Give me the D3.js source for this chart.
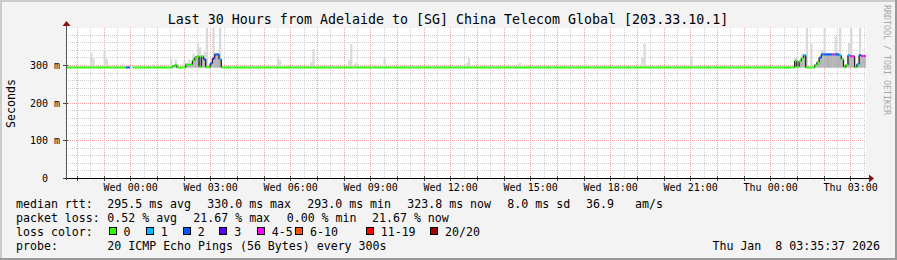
<!DOCTYPE html>
<html><head><meta charset="utf-8">
<script src="https://cdn.jsdelivr.net/npm/d3@7"></script>
<style>
body{margin:0;background:#f3f3f3}
svg{display:block}
text{font-family:"DejaVu Sans Mono",monospace;fill:#000}
</style>
</head><body>
<svg id="c" width="897" height="260"></svg>
<script>
// ---------------- data ----------------
const titleText = "Last 30 Hours from Adelaide to [SG] China Telecom Global [203.33.10.1]";
const startTime = "06 21:35:37";
const endTime = "08 03:35:37";
const yLabel = "Seconds";
const yTickValues = [0, 100, 200, 300];
const yTickLabels = ["0  ", "100 m", "200 m", "300 m"];
const xTickLabels = ["Wed 00:00","Wed 03:00","Wed 06:00","Wed 09:00","Wed 12:00","Wed 15:00","Wed 18:00","Wed 21:00","Thu 00:00","Thu 03:00"];
const lossLabels = ["0","1","2","3","4-5","6-10","11-19","20/20"];
const lossColors = ["#26ff00","#00b8ff","#0059ff","#5e00ff","#ff00ff","#ff5500","#ff0000","#a10000"];

// median rtt (ms) and loss bucket, per 5-min step end; value holds until the next entry
const medianChanges = [
 ["06 21:40",293.4,0],["06 23:55",293.4,2],["07 00:05",null,0],["07 00:10",293.4,0],
 ["07 01:40",297,0],["07 01:45",300,0],["07 01:50",293.4,0],
 ["07 02:10",301,0],["07 02:15",300,0],["07 02:20",301,0],["07 02:25",312,0],["07 02:30",320,0],
 ["07 02:35",323,0],["07 02:40",295,0],["07 02:45",323,0],["07 02:50",315,2],["07 02:55",294,0],
 ["07 03:05",304,2],["07 03:10",317,3],["07 03:15",328,2],["07 03:25",315,1],["07 03:30",293.4,0],
 ["08 01:00",311,0],["08 01:05",295,0],["08 01:10",310,0],["08 01:15",318,0],["08 01:20",326,1],
 ["08 01:25",293.4,0],["08 01:45",300,0],["08 01:50",307,0],["08 01:55",319,2],["08 02:00",328,2],
 ["08 02:25",328,4],["08 02:30",328,2],["08 02:40",325,1],["08 02:45",315,0],["08 02:50",294,0],
 ["08 02:55",300,0],["08 03:00",326,1],["08 03:05",323,4],["08 03:15",294,0],["08 03:20",302,1],
 ["08 03:25",326,2],["08 03:30",323.8,4]
];
// smoke: slowest ping per step (ms) where it rises visibly above the median
const smokeBaseMax = 296;
const smokeMinPing = 293;
const smokePeaks = [
 ["06 22:35",331],["06 22:40",318],["06 23:05",340],["06 23:10",316],["06 23:45",304],
 ["07 00:55",302],["07 01:35",315],["07 01:45",315],["07 02:05",312],["07 02:15",315],
 ["07 02:25",330],["07 02:35",357],["07 02:40",347],["07 02:50",335],["07 02:55",400],
 ["07 03:10",400],["07 03:25",400],
 ["07 05:35",320],["07 05:40",312],["07 06:50",307],["07 06:55",342],["07 08:15",312],
 ["07 08:20",355],["07 08:30",305],["07 08:35",303],["07 09:15",300],["07 09:35",319],
 ["07 12:40",305],["07 12:45",319],["07 14:40",306],["07 17:05",302],["07 19:15",320],
 ["07 19:20",357],["07 21:05",323],
 ["08 01:00",320],["08 01:15",331],["08 01:25",400],["08 01:35",358],["08 02:00",340],
 ["08 02:05",400],["08 02:30",376],["08 02:40",400],["08 03:00",358],["08 03:05",400],["08 03:25",400]
];
const legendRtt = ["295.5 ms avg","330.0 ms max","293.0 ms min","323.8 ms now","8.0 ms sd","36.9","am/s"];
const legendLoss = ["0.52 % avg","21.67 % max","0.00 % min","21.67 % now"];
const probeText = "20 ICMP Echo Pings (56 Bytes) every 300s";
const stampText = "Thu Jan  8 03:35:37 2026";
const creditText = "RRDTOOL / TOBI OETIKER";

// ---------------- layout ----------------
const W = 897, H = 260;
const X0 = 66, X1 = 866, Y0 = 178, YT = 28, YMAX = 398.2;
const rttX = [107.3, 207.3, 307.3, 407.3, 507.3, 586, 635];
const lossX = [107.3, 193.3, 286.7, 372];
const swatchX = [108.5, 145.7, 182.7, 219.3, 256.7, 295, 365.7, 430];
const rowY = [207.7, 221.8, 235.9, 250];

const P = d3.timeParse("%Y-%m-%d %H:%M");
const PS = d3.timeParse("%Y-%m-%d %H:%M:%S");
const T = s => (s.length > 8 ? PS : P)("2026-01-" + s);
const t0 = T(startTime), t1 = T(endTime);

const svg = d3.select("#c");
const x = d3.scaleTime().domain([t0, t1]).range([X0, X1]);
const y = d3.scaleLinear().domain([0, YMAX]).range([Y0, YT]);

// background + 3D border
svg.append("rect").attr("width", W).attr("height", H).attr("fill", "#f3f3f3");
svg.append("rect").attr("x", 0).attr("y", 0).attr("width", W).attr("height", 2).attr("fill", "#cbcbcb");
svg.append("rect").attr("x", 0).attr("y", 0).attr("width", 2).attr("height", H).attr("fill", "#cbcbcb");
svg.append("rect").attr("x", 0).attr("y", H - 2).attr("width", W).attr("height", 2).attr("fill", "#999");
svg.append("rect").attr("x", W - 2).attr("y", 0).attr("width", 2).attr("height", H).attr("fill", "#999");

// canvas
svg.append("rect").attr("x", X0).attr("y", YT).attr("width", X1 - X0).attr("height", Y0 - YT).attr("fill", "#fff");

// steps
const steps = d3.timeMinute.every(5).range(t0, d3.timeSecond.offset(t1, 1));
const changes = medianChanges.map(d => ({t: T(d[0]), v: d[1], l: d[2]}));
const peaks = new Map(smokePeaks.map(d => [+T(d[0]), d[1]]));
const data = steps.map(t => {
  let c = null;
  for (const ch of changes) if (ch.t <= t) c = ch;
  const from = d3.timeMinute.offset(t, -5);
  return {t, from: from < t0 ? t0 : from, v: c ? c.v : null, l: c ? c.l : 0,
          hi: peaks.has(+t) ? peaks.get(+t) : smokeBaseMax};
});

// grid
const g = svg.append("g").attr("shape-rendering", "crispEdges");
const minorX = d3.timeMinute.every(30).range(t0, t1);
const majorX = d3.timeHour.range(t0, t1);
const minorY = d3.range(20, YMAX, 20).filter(v => v % 100 !== 0);
const majorY = d3.range(100, YMAX, 100);
g.selectAll(".vx").data(minorX).join("line")
  .attr("x1", d => Math.round(x(d)) + 0.5).attr("x2", d => Math.round(x(d)) + 0.5)
  .attr("y1", YT).attr("y2", Y0).attr("stroke", "#cfcfcf").attr("stroke-dasharray", "1,1");
g.selectAll(".hy").data(minorY).join("line")
  .attr("x1", X0).attr("x2", X1).attr("y1", d => Math.round(y(d)) + 0.5).attr("y2", d => Math.round(y(d)) + 0.5)
  .attr("stroke", "#cfcfcf").attr("stroke-dasharray", "1,1");
g.selectAll(".vX").data(majorX).join("line")
  .attr("x1", d => Math.round(x(d)) + 0.5).attr("x2", d => Math.round(x(d)) + 0.5)
  .attr("y1", YT).attr("y2", Y0).attr("stroke", "#f2a0a0").attr("stroke-dasharray", "1,1");
g.selectAll(".hY").data(majorY).join("line")
  .attr("x1", X0).attr("x2", X1).attr("y1", d => Math.round(y(d)) + 0.5).attr("y2", d => Math.round(y(d)) + 0.5)
  .attr("stroke", "#f2a0a0").attr("stroke-dasharray", "1,1");

// smoke
const clip = svg.append("clipPath").attr("id", "pc").append("rect")
  .attr("x", X0).attr("y", YT).attr("width", X1 - X0).attr("height", Y0 - YT);
const plot = svg.append("g").attr("clip-path", "url(#pc)");
const valid = data.filter(d => d.v !== null);
plot.selectAll(".sm").data(valid).join("rect")
  .attr("x", d => x(d.from)).attr("width", d => x(d.t) - x(d.from))
  .attr("y", d => y(Math.max(d.hi, d.v + 2))).attr("height", d => y(smokeMinPing) - y(Math.max(d.hi, d.v + 2)))
  .attr("fill", "#d9d9d9");
plot.selectAll(".sm2").data(valid.filter(d => d.v > 296)).join("rect")
  .attr("x", d => x(d.from)).attr("width", d => x(d.t) - x(d.from))
  .attr("y", d => y(d.v + 3)).attr("height", d => y(smokeMinPing) - y(d.v + 3))
  .attr("fill", "#b3b3b3");

// dark connectors between differing consecutive medians
const conn = [];
for (let i = 1; i < data.length; i++) {
  const a = data[i - 1], b = data[i];
  if (a.v !== null && b.v !== null && Math.abs(a.v - b.v) > 0.5) conn.push([a, b]);
}
plot.selectAll(".cn").data(conn).join("line")
  .attr("x1", d => x(d[0].t)).attr("x2", d => x(d[0].t))
  .attr("y1", d => y(d[0].v)).attr("y2", d => y(d[1].v))
  .attr("stroke", "#202020").attr("stroke-width", 1.3);

// median colored by loss
plot.selectAll(".md").data(valid).join("line")
  .attr("x1", d => x(d.from)).attr("x2", d => x(d.t))
  .attr("y1", d => y(d.v)).attr("y2", d => y(d.v))
  .attr("stroke", d => lossColors[d.l]).attr("stroke-width", 2);

// axes
const xAxis = d3.axisBottom(x)
  .tickValues(d3.timeHour.every(3).range(t0, t1))
  .tickFormat(d3.timeFormat("%a %H:%M")).tickSize(0).tickPadding(0);
const xa = svg.append("g").attr("transform", `translate(0,${Y0})`).call(xAxis);
xa.select(".domain").remove();
xa.selectAll("text").attr("y", 12.5).attr("dy", null)
  .style("font-family", '"DejaVu Sans Mono",monospace').style("font-size", "10px").attr("fill", "#000");

const yAxis = d3.axisLeft(y).tickValues(yTickValues).tickFormat((d, i) => yTickLabels[i]).tickSize(0).tickPadding(0);
const ya = svg.append("g").attr("transform", `translate(${X0 - 6},0)`).call(yAxis);
ya.select(".domain").remove();
ya.selectAll("text").attr("dy", "0.36em").attr("x", 0)
  .style("white-space", "pre").attr("xml:space", "preserve")
  .style("font-family", '"DejaVu Sans Mono",monospace').style("font-size", "10px").attr("fill", "#000");

// tick marks
const tk = svg.append("g").attr("shape-rendering", "crispEdges");
tk.selectAll(".tx").data(majorX).join("line")
  .attr("x1", d => Math.round(x(d)) + 0.5).attr("x2", d => Math.round(x(d)) + 0.5)
  .attr("y1", Y0 - 2).attr("y2", Y0 + 3).attr("stroke", "#444");
tk.selectAll(".ty").data(yTickValues).join("line")
  .attr("x1", X0 - 3).attr("x2", X0 + 2).attr("y1", d => Math.round(y(d)) + 0.5).attr("y2", d => Math.round(y(d)) + 0.5)
  .attr("stroke", "#444");
tk.append("line").attr("x1", X0 - 1).attr("x2", X1 + 4).attr("y1", Y0 + 0.5).attr("y2", Y0 + 0.5).attr("stroke", "#000");
tk.append("line").attr("x1", X0 + 0.5).attr("x2", X0 + 0.5).attr("y1", Y0 + 2).attr("y2", YT - 4).attr("stroke", "#555");
svg.append("path").attr("d", `M${X0 - 3.5},${YT - 2} L${X0 + 4.5},${YT - 2} L${X0 + 0.5},${YT - 7} Z`).attr("fill", "#8b1010");
svg.append("path").attr("d", `M${X1 + 3},${Y0 - 3.5} L${X1 + 3},${Y0 + 4.5} L${X1 + 8},${Y0 + 0.5} Z`).attr("fill", "#8b1010");

// title & labels
svg.append("text").attr("x", 448).attr("y", 23.5).attr("text-anchor", "middle").style("font-size", "13.3px").text(titleText);
svg.append("text").attr("transform", "translate(15,103.5) rotate(-90)").attr("text-anchor", "middle")
  .style("font-size", "11.6px").text(yLabel);
svg.append("text").attr("transform", "translate(884,5) rotate(90)").style("font-size", "8.3px")
  .attr("fill", "#a8a8a8").style("fill", "#a8a8a8").text(creditText);

// legend
const lg = svg.append("g").style("font-size", "11.6px");
lg.append("text").attr("x", 16).attr("y", rowY[0]).text("median rtt:");
lg.selectAll(".r").data(legendRtt).join("text").attr("x", (d, i) => rttX[i]).attr("y", rowY[0]).text(d => d);
lg.append("text").attr("x", 16).attr("y", rowY[1]).text("packet loss:");
lg.selectAll(".l").data(legendLoss).join("text").attr("x", (d, i) => lossX[i]).attr("y", rowY[1]).text(d => d);
lg.append("text").attr("x", 16).attr("y", rowY[2]).text("loss color:");
const sw = lg.selectAll(".s").data(lossLabels).join("g");
sw.append("rect").attr("x", (d, i) => Math.round(swatchX[i]) + 0.5).attr("y", 227.5).attr("width", 7).attr("height", 7)
  .attr("fill", (d, i) => lossColors[i]).attr("stroke", "#000").attr("shape-rendering", "crispEdges");
sw.append("text").attr("x", (d, i) => swatchX[i] + 15).attr("y", rowY[2]).text(d => d);
lg.append("text").attr("x", 16).attr("y", rowY[3]).text("probe:");
lg.append("text").attr("x", 107.3).attr("y", rowY[3]).text(probeText);
lg.append("text").attr("x", 880).attr("y", rowY[3]).attr("text-anchor", "end").style("white-space", "pre").text(stampText);
</script>
</body></html>
